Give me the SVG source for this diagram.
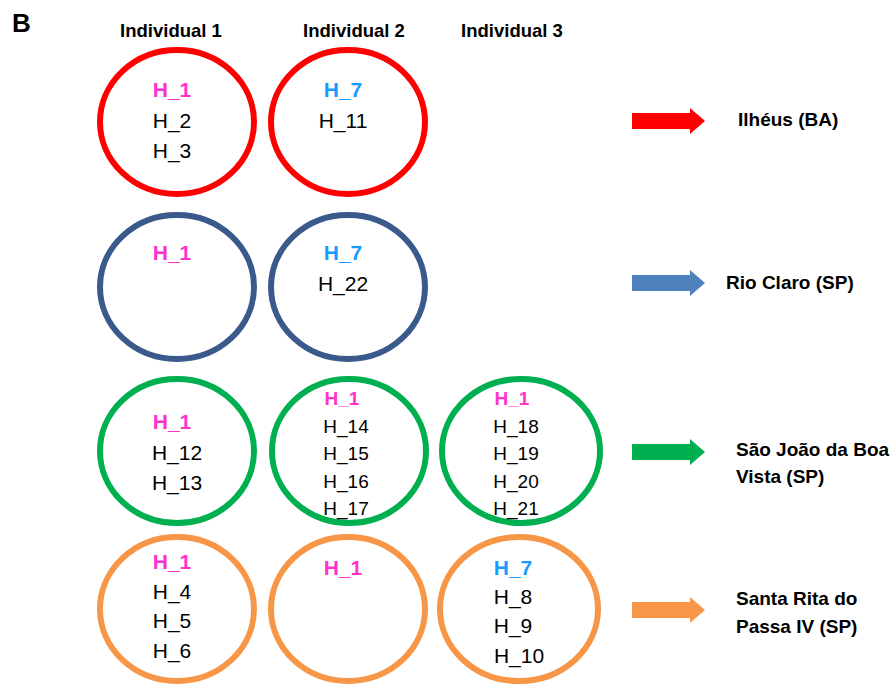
<svg xmlns="http://www.w3.org/2000/svg" width="894" height="684" viewBox="0 0 894 684">
<style>
text{font-family:"Liberation Sans",Arial,sans-serif;}
.hd{font-size:18.5px;font-weight:bold;fill:#000;text-anchor:middle;}
.lb{font-size:19px;font-weight:bold;fill:#000;}
.h{font-size:21px;fill:#000;text-anchor:middle;}
.s{font-size:19px;fill:#000;text-anchor:middle;}
.pk{fill:#FF33CC;font-weight:bold;}
.bl{fill:#1A9BFF;font-weight:bold;}
ellipse{fill:none;stroke-width:6;}
.r{stroke:#FF0000;}
.b{stroke:#3B5A8C;}
.g{stroke:#00B050;}
.o{stroke:#F79646;}
</style>
<rect width="894" height="684" fill="#fff"/>
<text x="12" y="32" font-size="26" font-weight="bold" font-family="Liberation Sans,Arial,sans-serif">B</text>
<g id="headers">
<text class="hd" x="171" y="37">Individual  1</text>
<text class="hd" x="354" y="37">Individual  2</text>
<text class="hd" x="512" y="37">Individual  3</text>
</g>
<g id="r1c1"><ellipse class="r" cx="177" cy="122" rx="77" ry="72"/>
<text class="h pk" x="172" y="97">H_1</text><text class="h" x="172" y="128">H_2</text><text class="h" x="172" y="158">H_3</text></g>
<g id="r1c2"><ellipse class="r" cx="348" cy="122" rx="77" ry="72"/>
<text class="h bl" x="343" y="97">H_7</text><text class="h" x="343" y="128">H_11</text></g>
<g id="r2c1"><ellipse class="b" cx="177" cy="287" rx="77" ry="72"/>
<text class="h pk" x="172" y="260">H_1</text></g>
<g id="r2c2"><ellipse class="b" cx="348" cy="287" rx="77" ry="72"/>
<text class="h bl" x="343" y="260">H_7</text><text class="h" x="343" y="291">H_22</text></g>
<g id="r3c1"><ellipse class="g" cx="177" cy="451" rx="77" ry="72"/>
<text class="h pk" x="172" y="429">H_1</text><text class="h" x="177" y="460">H_12</text><text class="h" x="177" y="490">H_13</text></g>
<g id="r3c2"><ellipse class="g" cx="349" cy="451" rx="77" ry="72"/>
<text class="s pk" x="342" y="405">H_1</text><text class="s" x="346" y="433">H_14</text><text class="s" x="346" y="460">H_15</text><text class="s" x="346" y="488">H_16</text><text class="s" x="346" y="515">H_17</text></g>
<g id="r3c3"><ellipse class="g" cx="521" cy="451" rx="79" ry="72"/>
<text class="s pk" x="512" y="405">H_1</text><text class="s" x="516" y="433">H_18</text><text class="s" x="516" y="460">H_19</text><text class="s" x="516" y="488">H_20</text><text class="s" x="516" y="515">H_21</text></g>
<g id="r4c1"><ellipse class="o" cx="177" cy="609" rx="77" ry="72"/>
<text class="h pk" x="172" y="569">H_1</text><text class="h" x="172" y="599">H_4</text><text class="h" x="172" y="628">H_5</text><text class="h" x="172" y="658">H_6</text></g>
<g id="r4c2"><ellipse class="o" cx="348" cy="609" rx="77" ry="72"/>
<text class="h pk" x="343" y="575">H_1</text></g>
<g id="r4c3"><ellipse class="o" cx="519" cy="609" rx="79" ry="72"/>
<text class="h bl" x="513" y="575">H_7</text><text class="h" x="513" y="604">H_8</text><text class="h" x="513" y="633">H_9</text><text class="h" x="519" y="663">H_10</text></g>
<g id="connectors">
<polygon fill="#FF0000" points="632,113 690,113 690,108 705,121 690,134 690,129 632,129"/>
<polygon fill="#4F81BD" points="632,275 690,275 690,270 705,283 690,296 690,291 632,291"/>
<polygon fill="#00B050" points="632,444 690,444 690,439 705,452 690,465 690,460 632,460"/>
<polygon fill="#F79646" points="632,602 690,602 690,597 705,610 690,623 690,618 632,618"/>
</g>
<g id="labels">
<text class="lb" x="738" y="126">Ilhéus (BA)</text>
<text class="lb" x="726" y="289">Rio Claro (SP)</text>
<text class="lb" x="736" y="456">São João da Boa</text>
<text class="lb" x="736" y="483">Vista (SP)</text>
<text class="lb" x="736" y="605">Santa Rita do</text>
<text class="lb" x="736" y="633">Passa IV (SP)</text>
</g>
</svg>
